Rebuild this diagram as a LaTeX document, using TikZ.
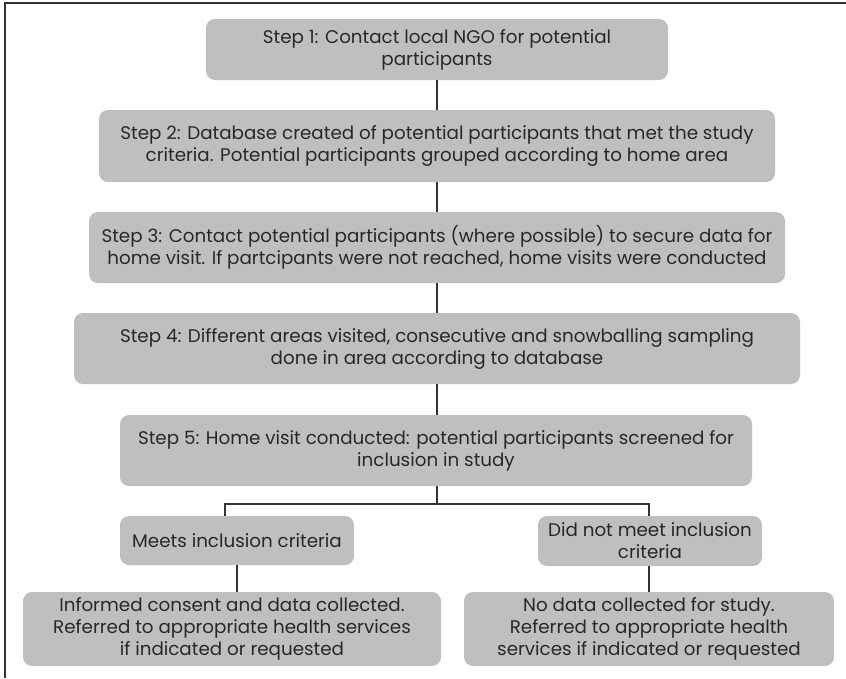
\documentclass[tikz,border=0pt]{standalone}
\usepackage{fontspec}
\setmainfont{Poppins}
\definecolor{boxgray}{RGB}{190,191,193}
\definecolor{txt}{RGB}{40,40,40}
\definecolor{ln}{RGB}{50,50,50}
\begin{document}
\begin{tikzpicture}[x=1pt,y=-1pt,
  stepbox/.style={fill=boxgray,rounded corners=9pt,align=center,text=txt,
    font=\fontsize{18.3}{22}\selectfont,inner sep=0pt},
  conn/.style={draw=ln,line width=1.3pt}]
\useasboundingbox (0,0) rectangle (846,678);
\draw[ln,line width=1.5pt] (5,678) -- (5,3) -- (846,3);
\node[stepbox,minimum width=462pt,minimum height=61pt] (b1) at (437,49.5)
  {Step 1: Contact local NGO for potential\\participants};
\node[stepbox,minimum width=676pt,minimum height=72pt] (b2) at (437,146)
  {Step 2: Database created of potential participants that met the study\\criteria. Potential participants grouped according to home area};
\node[stepbox,minimum width=696pt,minimum height=71pt] (b3) at (437,247.5)
  {Step 3: Contact potential participants (where possible) to secure data for\\home visit. If partcipants were not reached, home visits were conducted};
\node[stepbox,minimum width=726pt,minimum height=71pt] (b4) at (437,348.5)
  {Step 4: Different areas visited, consecutive and snowballing sampling\\done in area according to database};
\node[stepbox,minimum width=632pt,minimum height=71pt] (b5) at (436,450.5)
  {Step 5: Home visit conducted: potential participants screened for\\inclusion in study};
\node[stepbox,minimum width=234pt,minimum height=49pt] (m) at (237,540.5)
  {Meets inclusion criteria};
\node[stepbox,minimum width=224pt,minimum height=50pt] (d) at (650,541)
  {Did not meet inclusion\\criteria};
\node[stepbox,minimum width=418pt,minimum height=74pt] (l) at (232,629)
  {Informed consent and data collected.\\Referred to appropriate health services\\if indicated or requested};
\node[stepbox,minimum width=370pt,minimum height=74pt] (r) at (649,629)
  {No data collected for study.\\Referred to appropriate health\\services if indicated or requested};
\coordinate (j) at (437,504);
\draw[conn] (b1.south) -- (b2.north);
\draw[conn] (b2.south) -- (b3.north);
\draw[conn] (b3.south) -- (b4.north);
\draw[conn] (b4.south) -- ([xshift=1pt]b5.north);
\draw[conn] ([xshift=1pt]b5.south) -- (j);
\draw[conn] (j) -| ([xshift=-12pt]m.north);
\draw[conn] (j) -| ([xshift=-1pt]d.north);
\draw[conn] (m.south) -- ([xshift=5pt]l.north);
\draw[conn] ([xshift=-1pt]d.south) -- (r.north);
\end{tikzpicture}
\end{document}
